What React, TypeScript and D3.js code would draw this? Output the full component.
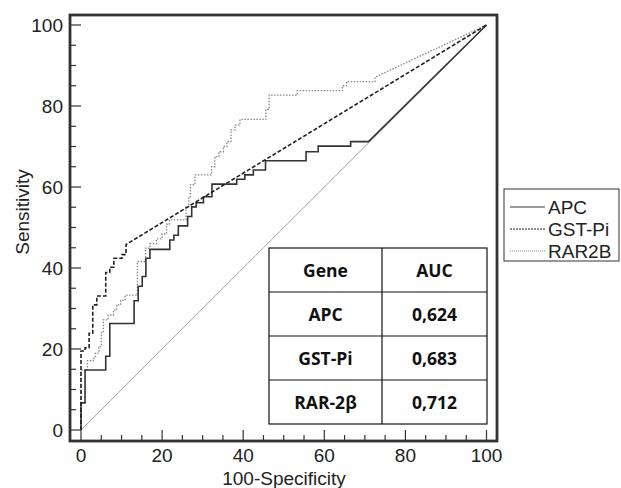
import React, { useEffect, useRef } from 'react';
import * as d3 from 'd3';

// ROC points [100-Specificity, Sensitivity]
const apcPoints: [number, number][] = [
  [0, 0], [0, 6.7], [1, 6.7], [1, 14.8], [6.1, 14.8], [6.1, 18.2], [7.1, 18.2], [7.1, 26.3],
  [13.1, 26.3], [13.1, 31.9], [14.1, 31.9], [14.1, 35.5], [15.1, 35.5], [15.1, 37.9], [16, 37.9],
  [16, 42.4], [17, 42.4], [17, 44.6], [21.9, 44.6], [21.9, 46.9], [22.9, 46.9], [22.9, 48.1],
  [24, 48.1], [24, 50.4], [26.3, 50.4], [26.3, 52.7], [27.3, 52.7], [27.3, 55.1], [28.4, 55.1],
  [28.4, 56.1], [30.2, 56.1], [30.2, 57.6], [32.3, 57.6], [32.3, 60.7], [38.4, 60.7], [38.4, 61.9],
  [40.4, 61.9], [40.4, 63], [42.5, 63], [42.5, 64.2], [45.5, 64.2], [45.5, 66.5], [55.5, 66.5],
  [55.5, 68.7], [58.5, 68.7], [58.5, 70.1], [66.5, 70.1], [66.5, 71.2], [70.9, 71.2], [100, 100],
];

const gstPoints: [number, number][] = [
  [0, 0], [0, 19.5], [1, 19.5], [1, 20.3], [2, 20.3], [2, 23.9], [2.9, 23.9], [2.9, 30.9],
  [3.9, 30.9], [3.9, 33.1], [6.1, 33.1], [6.1, 38.9], [7.1, 38.9], [7.1, 40.2], [8.1, 40.2],
  [8.1, 42.4], [10.1, 42.4], [10.1, 43.3], [11.1, 43.3], [11.1, 45.8], [100, 100],
];

const rarPoints: [number, number][] = [
  [0, 0], [0, 14.8], [1.6, 14.8], [1.6, 17.1], [3, 17.1], [3, 17.7], [3.5, 17.7], [3.5, 19],
  [4.4, 19], [4.4, 20.6], [5, 20.6], [5, 24], [5.5, 24], [5.5, 27.2], [6.7, 27.2], [6.7, 28.4],
  [8, 28.4], [8, 29.6], [8.8, 29.6], [8.8, 30.9], [9.8, 30.9], [9.8, 32], [10.9, 32], [10.9, 33.3],
  [13.9, 33.3], [13.9, 41.6], [15.9, 41.6], [15.9, 44.9], [17, 44.9], [17, 46], [18.6, 46],
  [18.6, 47.2], [20, 47.2], [20, 48.4], [21.1, 48.4], [21.1, 50.8], [21.8, 50.8], [21.8, 51.9],
  [25.9, 51.9], [25.9, 55.1], [26.6, 55.1], [26.6, 57.6], [27, 57.6], [27, 60.6], [28.1, 60.6],
  [28.1, 63], [32.2, 63], [32.2, 65], [33, 65], [33, 67.5], [34, 67.5], [34, 68.7], [35.1, 68.7],
  [35.1, 70], [36, 70], [36, 71.2], [37, 71.2], [37, 74.1], [38, 74.1], [38, 75.3], [39.2, 75.3],
  [39.2, 76.7], [45.6, 76.7], [45.6, 79.2], [46.4, 79.2], [46.4, 82.7], [53.3, 82.7], [53.3, 83.8],
  [64.5, 83.8], [64.5, 85], [65.5, 85], [65.5, 86], [72.5, 86], [72.5, 87.1], [100, 100],
];

const legendNames = ['APC', 'GST-Pi', 'RAR2B'];
const tableHeader = ['Gene', 'AUC'];
const tableGenes = ['APC', 'GST-Pi', 'RAR-2β'];
const tableAuc = ['0,624', '0,683', '0,712'];
const tickValues = [0, 20, 40, 60, 80, 100];

const App = () => {
  const ref = useRef<SVGSVGElement>(null);

  useEffect(() => {
    const svg = d3.select(ref.current);
    svg.selectAll('*').remove();

    const font = 'Liberation Sans, Arial, sans-serif';
    const x = d3.scaleLinear().domain([0, 100]).range([81, 486.5]);
    const y = d3.scaleLinear().domain([0, 100]).range([430, 25]);
    const frame = { left: 70, top: 15, right: 497, bottom: 441 };

    // reference diagonal
    svg.append('line')
      .attr('x1', x(0)).attr('y1', y(0)).attr('x2', x(100)).attr('y2', y(100))
      .attr('stroke', '#888').attr('stroke-width', 0.8);

    const line = d3.line<[number, number]>().x(d => x(d[0])).y(d => y(d[1]));

    const series = [
      { pts: rarPoints, color: '#888', width: 1.3, dash: '1.5,1.5' },
      { pts: apcPoints, color: '#333', width: 1.6, dash: null },
      { pts: gstPoints, color: '#222', width: 1.6, dash: '4,2' },
    ];
    series.forEach(s => {
      svg.append('path')
        .attr('d', line(s.pts))
        .attr('fill', 'none')
        .attr('stroke', s.color)
        .attr('stroke-width', s.width)
        .attr('stroke-dasharray', s.dash);
    });

    // ticks, inside the frame
    const minor = d3.range(0, 101, 5);
    const axis = svg.append('g').attr('stroke', '#333').attr('stroke-width', 1.2);
    minor.forEach(v => {
      const len = v % 20 === 0 ? 11 : 6;
      axis.append('line').attr('x1', x(v)).attr('x2', x(v))
        .attr('y1', frame.bottom).attr('y2', frame.bottom - len);
      axis.append('line').attr('y1', y(v)).attr('y2', y(v))
        .attr('x1', frame.left).attr('x2', frame.left + len);
    });

    svg.append('rect')
      .attr('x', frame.left).attr('y', frame.top)
      .attr('width', frame.right - frame.left).attr('height', frame.bottom - frame.top)
      .attr('fill', 'none').attr('stroke', '#333').attr('stroke-width', 2.8);

    svg.selectAll('.xt').data(tickValues).enter().append('text')
      .attr('x', d => x(d)).attr('y', 462)
      .attr('text-anchor', 'middle').attr('font-family', font).attr('font-size', 19)
      .attr('fill', '#222').text(d => d);

    svg.selectAll('.yt').data(tickValues).enter().append('text')
      .attr('x', 63).attr('y', d => y(d) + 7)
      .attr('text-anchor', 'end').attr('font-family', font).attr('font-size', 19)
      .attr('fill', '#222').text(d => d);

    svg.append('text')
      .attr('x', 284).attr('y', 485).attr('text-anchor', 'middle')
      .attr('font-family', font).attr('font-size', 19).attr('fill', '#222')
      .text('100-Specificity');

    svg.append('text')
      .attr('transform', 'translate(29,212) rotate(-90)').attr('text-anchor', 'middle')
      .attr('font-family', font).attr('font-size', 19).attr('fill', '#222')
      .text('Sensitivity');

    // legend
    const lg = svg.append('g');
    lg.append('rect').attr('x', 504).attr('y', 189).attr('width', 115).attr('height', 72)
      .attr('fill', '#fff').attr('stroke', '#333').attr('stroke-width', 1);
    const legendStyles = [
      { color: '#333', dash: null },
      { color: '#222', dash: '2,1' },
      { color: '#888', dash: '1,1' },
    ];
    legendNames.forEach((name, i) => {
      const cy = 207 + i * 22;
      lg.append('line').attr('x1', 510).attr('x2', 545).attr('y1', cy).attr('y2', cy)
        .attr('stroke', legendStyles[i].color).attr('stroke-width', 1.2)
        .attr('stroke-dasharray', legendStyles[i].dash);
      lg.append('text').attr('x', 548).attr('y', cy + 7)
        .attr('font-family', font).attr('font-size', 19).attr('fill', '#222').text(name);
    });

    // AUC table
    const tb = { left: 269, mid: 382, right: 487, top: 248, rowH: 44 };
    const rows = [tableHeader, ...tableGenes.map((g, i) => [g, tableAuc[i]])];
    const t = svg.append('g');
    t.append('rect').attr('x', tb.left).attr('y', tb.top)
      .attr('width', tb.right - tb.left).attr('height', tb.rowH * rows.length)
      .attr('fill', '#fff').attr('stroke', '#111').attr('stroke-width', 1.2);
    t.append('line').attr('x1', tb.mid).attr('x2', tb.mid)
      .attr('y1', tb.top).attr('y2', tb.top + tb.rowH * rows.length)
      .attr('stroke', '#111').attr('stroke-width', 1.2);
    rows.forEach((r, i) => {
      if (i > 0) {
        t.append('line').attr('x1', tb.left).attr('x2', tb.right)
          .attr('y1', tb.top + i * tb.rowH).attr('y2', tb.top + i * tb.rowH)
          .attr('stroke', '#111').attr('stroke-width', 1.2);
      }
      const cy = tb.top + i * tb.rowH + tb.rowH / 2 + 6.5;
      [(tb.left + tb.mid) / 2, (tb.mid + tb.right) / 2].forEach((cx, j) => {
        t.append('text').attr('x', cx).attr('y', cy).attr('text-anchor', 'middle')
          .attr('font-family', 'Open Sans, sans-serif').attr('font-weight', 'bold')
          .attr('font-size', 17.5).attr('fill', '#111').text(r[j]);
      });
    });
  }, []);

  return (
    <svg ref={ref} width={621} height={488}
      style={{ position: 'absolute', left: 0, top: 0, background: '#fff' }} />
  );
};

export default App;
